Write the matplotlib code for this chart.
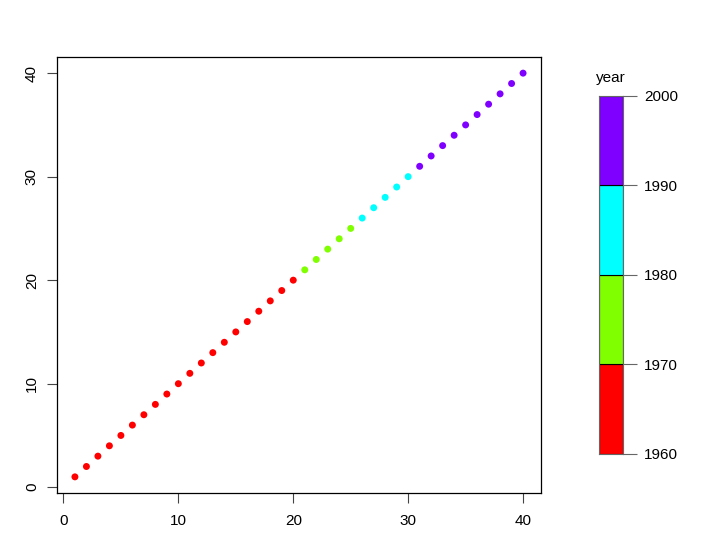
import matplotlib
matplotlib.use("Agg")
import matplotlib.pyplot as plt

plt.rcParams['font.family'] = ['Liberation Sans', 'DejaVu Sans']

x_vals = list(range(1, 41))
y_vals = list(range(1, 41))
point_group = [0]*20 + [1]*5 + [2]*5 + [3]*10
group_colors = ["#FF0000", "#80FF00", "#00FFFF", "#8000FF"]
year_breaks = [1960, 1970, 1980, 1990, 2000]
x_ticks = [0, 10, 20, 30, 40]
y_ticks = [0, 10, 20, 30, 40]

fig = plt.figure(figsize=(7.19, 5.51), dpi=100)
ax = fig.add_axes([57/719, (551-493)/551, 484/719, 436/551])
cols = [group_colors[g] for g in point_group]
ax.scatter(x_vals, y_vals, c=cols, s=25, linewidths=0)
ax.set_xlim(-0.56, 41.56)
ax.set_ylim(-0.56, 41.56)
ax.set_xticks(x_ticks)
ax.set_yticks(y_ticks)
ax.set_yticklabels([str(t) for t in y_ticks], rotation=90, va='center')
ax.tick_params(direction='out', length=7, width=0.8, color='#444444', labelsize=11, pad=6)
ax.tick_params(axis='x', pad=8)
for s in ax.spines.values():
    s.set_linewidth(0.9)

cax = fig.add_axes([599/719, (551-454)/551, 24/719, 358/551])
for i in range(4):
    cax.bar(0, year_breaks[i+1]-year_breaks[i], bottom=year_breaks[i], width=1,
            color=group_colors[i], edgecolor='black', linewidth=0.8, align='center')
cax.set_xlim(-0.5, 0.5)
cax.set_ylim(year_breaks[0], year_breaks[-1])
cax.set_xticks([])
cax.yaxis.tick_right()
cax.set_yticks(year_breaks)
cax.tick_params(axis='y', direction='out', length=10, width=0.8, color='#666666', labelsize=11, pad=5)
for s in cax.spines.values():
    s.set_color('#666666')
    s.set_linewidth(0.8)
cax.set_title('year', fontsize=11, pad=10)

fig.savefig('out.png', dpi=100)
